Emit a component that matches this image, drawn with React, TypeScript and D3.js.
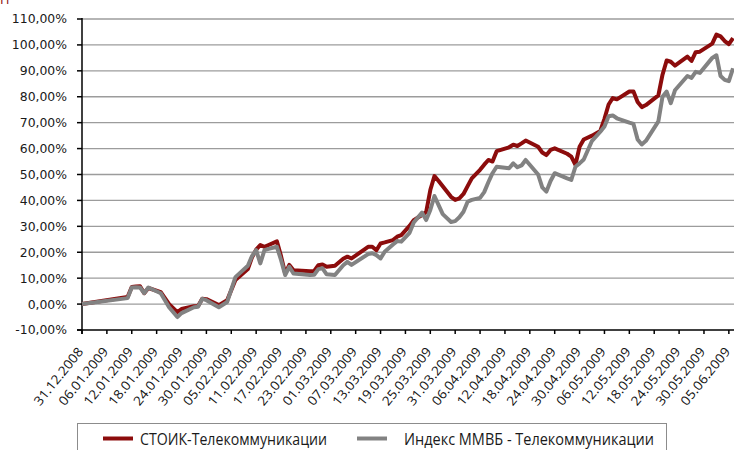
import * as d3 from "d3";

// dates of the observations
const dates = [
  "2008-12-31", "2009-01-11", "2009-01-12", "2009-01-13", "2009-01-14", "2009-01-15",
  "2009-01-16", "2009-01-19", "2009-01-20", "2009-01-21", "2009-01-23", "2009-01-24",
  "2009-01-27", "2009-01-28", "2009-01-29", "2009-01-30", "2009-02-02", "2009-02-04",
  "2009-02-06", "2009-02-09", "2009-02-10", "2009-02-11", "2009-02-12", "2009-02-13",
  "2009-02-14", "2009-02-16", "2009-02-17", "2009-02-18", "2009-02-19", "2009-02-20",
  "2009-02-24", "2009-02-25", "2009-02-26", "2009-02-27", "2009-02-28", "2009-03-02",
  "2009-03-04", "2009-03-05", "2009-03-06", "2009-03-10", "2009-03-11", "2009-03-12",
  "2009-03-13", "2009-03-14", "2009-03-16", "2009-03-17", "2009-03-18", "2009-03-20",
  "2009-03-21", "2009-03-23", "2009-03-24", "2009-03-25", "2009-03-26", "2009-03-27",
  "2009-03-28", "2009-03-30", "2009-03-31", "2009-04-01", "2009-04-02", "2009-04-03",
  "2009-04-04", "2009-04-06", "2009-04-07", "2009-04-08", "2009-04-09", "2009-04-10",
  "2009-04-13", "2009-04-14", "2009-04-15", "2009-04-16", "2009-04-17", "2009-04-20",
  "2009-04-21", "2009-04-22", "2009-04-23", "2009-04-24", "2009-04-27", "2009-04-28",
  "2009-04-29", "2009-04-30", "2009-05-01", "2009-05-03", "2009-05-05", "2009-05-06",
  "2009-05-07", "2009-05-08", "2009-05-09", "2009-05-12", "2009-05-13", "2009-05-14",
  "2009-05-15", "2009-05-16", "2009-05-19", "2009-05-20", "2009-05-21", "2009-05-22",
  "2009-05-23", "2009-05-26", "2009-05-27", "2009-05-28", "2009-05-29", "2009-06-01",
  "2009-06-02", "2009-06-03", "2009-06-04", "2009-06-05", "2009-06-06",
];

// СТОИК-Телекоммуникации, % since 31.12.2008
const stoik = [
  0, 2.7, 6.6, 6.8, 6.9, 4.2,
  6.2, 4.6, 2.3, 0.0, -3.1, -1.9,
  -0.8, -0.7, 2.1, 1.9, -0.4, 1.5,
  9.3, 13.5, 18.0, 21.0, 22.8, 22.1,
  22.8, 24.2, 18.5, 11.8, 15.1, 13.1,
  12.7, 12.8, 15.0, 15.3, 14.4, 14.8,
  17.5, 18.3, 17.6, 22.1, 22.1, 20.8,
  23.4, 23.8, 24.7, 26.0, 26.6, 30.2,
  32.4, 34.4, 35.5, 44.0, 49.4, 47.5,
  45.5, 41.4, 40.2, 40.8, 42.5, 45.5,
  48.5, 51.8, 53.8, 55.6, 55.0, 59.0,
  60.5, 61.5, 61.0, 62.0, 63.1, 60.7,
  58.5, 57.5, 59.5, 60.1, 58.0, 56.9,
  53.7, 60.7, 63.5, 65.0, 66.8, 71.5,
  77.0, 79.5, 79.0, 82.0, 82.0, 78.0,
  76.0, 76.8, 80.5, 88.5, 94.0, 93.5,
  92.0, 95.5, 93.8, 97.2, 97.4, 100.5,
  104.0, 103.3, 101.5, 100.3, 102.6,
];

// Индекс ММВБ - Телекоммуникации
const micex = [
  0, 2.3, 6.4, 6.5, 6.4, 4.2,
  6.4, 4.2, 1.5, -1.2, -5.0, -3.5,
  -1.2, -1.0, 2.0, 1.5, -1.2, 0.8,
  10.4, 14.8, 18.5, 20.8, 15.7, 20.8,
  21.3, 22.1, 17.0, 11.2, 14.4, 11.8,
  11.2, 11.3, 13.5, 13.8, 11.5, 11.2,
  15.0, 16.3, 15.1, 19.3, 19.6, 18.9,
  17.6, 20.2, 23.0, 24.3, 24.1, 27.5,
  31.5, 35.3, 32.4, 36.3, 41.7, 38.2,
  34.7, 31.7, 32.0, 33.5, 35.6, 39.5,
  40.2, 41.0, 43.2, 47.0, 50.5, 53.0,
  52.4, 54.3, 52.8, 53.5, 55.6, 50.0,
  45.0, 43.4, 47.5, 50.5, 48.5, 47.9,
  53.0, 54.3, 55.8, 63.0, 66.5, 68.5,
  72.5, 72.8, 71.7, 70.0, 69.5, 63.5,
  61.6, 63.0, 70.5, 80.0, 82.0, 77.5,
  82.5, 88.0, 87.3, 89.6, 89.2, 95.0,
  96.0, 88.0, 86.5, 86.0, 91.0,
];

const tickDates = [
  "2008-12-31", "2009-01-06", "2009-01-12", "2009-01-18", "2009-01-24", "2009-01-30",
  "2009-02-05", "2009-02-11", "2009-02-17", "2009-02-23", "2009-03-01", "2009-03-07",
  "2009-03-13", "2009-03-19", "2009-03-25", "2009-03-31", "2009-04-06", "2009-04-12",
  "2009-04-18", "2009-04-24", "2009-04-30", "2009-05-06", "2009-05-12", "2009-05-18",
  "2009-05-24", "2009-05-30", "2009-06-05",
];
const yTicks = [-10, 0, 10, 20, 30, 40, 50, 60, 70, 80, 90, 100, 110];

const seriesNames = ["СТОИК-Телекоммуникации", "Индекс ММВБ - Телекоммуникации"];

const RED = "#8c0c0c";
const GRAY = "#828282";

const parse = d3.timeParse("%Y-%m-%d");
const fmtDate = d3.timeFormat("%d.%m.%Y");
const fmtPct = (v: number) => v.toFixed(2).replace(".", ",") + "%";

export default function App() {
  const width = 734;
  const height = 450;
  const left = 82;
  const right = 733;
  const top = 19;
  const bottom = 330;

  const x = d3
    .scaleTime()
    .domain([parse("2008-12-31")!, parse("2009-06-06")!])
    .range([left, right]);
  const y = d3.scaleLinear().domain([-10, 110]).range([bottom, top]);

  const pts = dates.map((d) => parse(d)!);
  const line = d3
    .line<number>()
    .x((_, i) => x(pts[i]))
    .y((v) => y(v));

  const sans = "'Open Sans', 'Noto Sans', sans-serif";

  return (
    <svg
      width={width}
      height={height}
      style={{ position: "absolute", left: 0, top: 0, background: "#fff" }}
    >
      <rect width={width} height={height} fill="#fff" />

      {/* title, cut off by the top edge in the source */}
      <text x={0} y={4} fontFamily={sans} fontSize={13} fill={RED}>
        П
      </text>

      {/* grid */}
      {yTicks
        .filter((t) => t > -10)
        .map((t) => (
          <line
            key={"g" + t}
            x1={left}
            x2={width}
            y1={y(t)}
            y2={y(t)}
            stroke="#9c9c9c"
            strokeWidth={1.4}
          />
        ))}

      {/* y axis */}
      <line x1={left} x2={left} y1={top - 1} y2={bottom + 4} stroke="#000" strokeWidth={1.5} />
      {yTicks.map((t) => (
        <g key={"y" + t}>
          <line x1={left - 5} x2={left} y1={y(t)} y2={y(t)} stroke="#000" strokeWidth={1.5} />
          <text
            x={67}
            y={y(t)}
            dy="0.36em"
            textAnchor="end"
            fontFamily="Verdana, 'DejaVu Sans', sans-serif"
            fontSize={12.4}
            fill="#1a1a1a"
          >
            {fmtPct(t)}
          </text>
        </g>
      ))}

      {/* x axis */}
      <line x1={left - 5} x2={width} y1={bottom} y2={bottom} stroke="#000" strokeWidth={1.5} />
      {tickDates.map((d) => {
        const tx = x(parse(d)!);
        return (
          <g key={"x" + d}>
            <line x1={tx} x2={tx} y1={bottom} y2={bottom + 4} stroke="#000" strokeWidth={1.5} />
            <text
              transform={`translate(${tx + 2},${bottom + 22}) rotate(-51)`}
              textAnchor="end"
              fontFamily={sans}
              fontSize={12.8}
              textLength={70}
              lengthAdjust="spacingAndGlyphs"
              fill="#111"
            >
              {fmtDate(parse(d)!)}
            </text>
          </g>
        );
      })}

      {/* series */}
      <path
        d={line(stoik) ?? ""}
        fill="none"
        stroke={RED}
        strokeWidth={4}
        strokeLinejoin="round"
      />
      <path
        d={line(micex) ?? ""}
        fill="none"
        stroke={GRAY}
        strokeWidth={4}
        strokeLinejoin="round"
      />

      {/* legend */}
      <rect x={77.5} y={423.5} width={589} height={40} fill="#fff" stroke="#8c8c8c" strokeWidth={1} />
      <line x1={103} x2={133} y1={438.5} y2={438.5} stroke={RED} strokeWidth={4} />
      <text
        x={140}
        y={445}
        fontFamily={sans}
        fontSize={15.5}
        textLength={187}
        lengthAdjust="spacingAndGlyphs"
        fill="#1a1a1a"
      >
        {seriesNames[0]}
      </text>
      <line x1={357} x2={387} y1={438.5} y2={438.5} stroke={GRAY} strokeWidth={4} />
      <text
        x={404}
        y={445}
        fontFamily={sans}
        fontSize={15.5}
        textLength={250}
        lengthAdjust="spacingAndGlyphs"
        fill="#1a1a1a"
      >
        {seriesNames[1]}
      </text>
    </svg>
  );
}
